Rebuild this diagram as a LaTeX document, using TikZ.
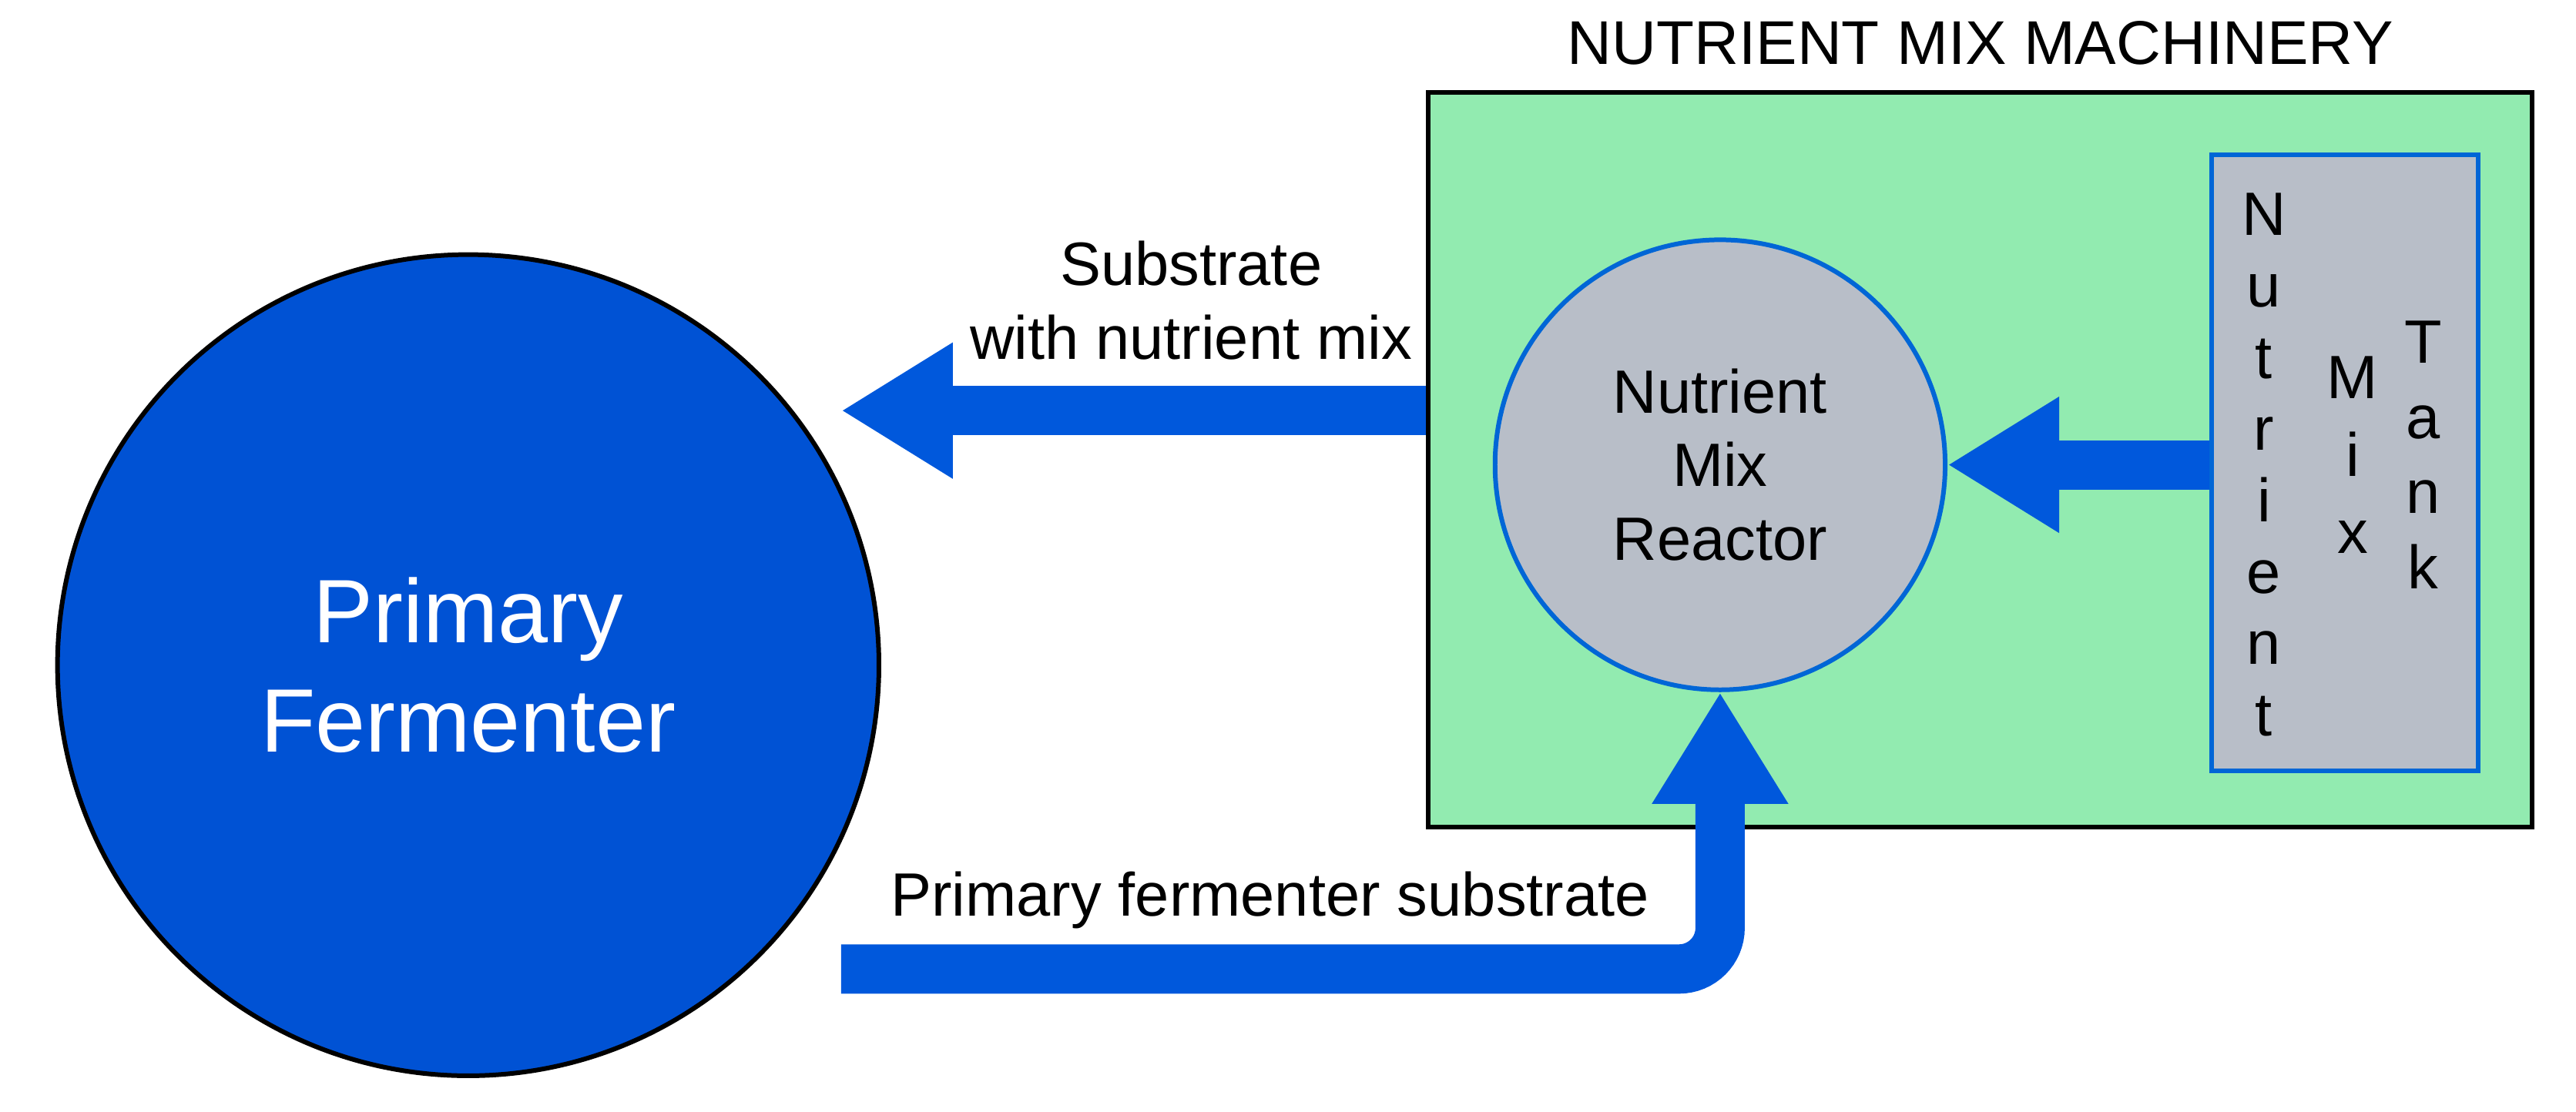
\documentclass[tikz,border=0pt]{standalone}
\usepackage{fontspec}
\setmainfont{Liberation Sans}
\usetikzlibrary{arrows.meta, positioning}
\definecolor{fermblue}{RGB}{0,82,212}
\definecolor{flowblue}{RGB}{0,88,220}
\definecolor{mixgreen}{RGB}{146,235,176}
\definecolor{tankgray}{RGB}{184,190,200}
\definecolor{edgeblue}{RGB}{0,102,214}

\begin{document}
\begin{tikzpicture}[
      flow/.style={-{Triangle[length=6.8mm,width=7.8mm]}, line width=3mm, draw=flowblue},
      lbl/.style={font=\fontsize{10.6}{12.8}\selectfont, align=center},
      x=1cm, y=1cm
    ]
    \useasboundingbox (0,0) rectangle (15.68,-6.77);

    % Nodes
    \node[circle, draw, thick, fill=fermblue, minimum size=5cm, text=white,
          font=\fontsize{15.6}{19}\selectfont, align=center] (ferm) at (2.85,-4.05) {Primary\\Fermenter};
    \node[draw, thick, fill=mixgreen, minimum width=6.72cm, minimum height=4.47cm,
          anchor=north west] (machine) at (8.68,-0.55) {};
    \node[font=\fontsize{10.7}{12}\selectfont, above=0.03cm of machine] (title) {NUTRIENT MIX MACHINERY};
    \node[circle, draw=edgeblue, thick, fill=tankgray, minimum size=2.74cm, lbl] (reactor)
          at (10.47,-2.83) {Nutrient\\Mix\\Reactor};
    \node[draw=edgeblue, thick, fill=tankgray, minimum width=1.62cm, minimum height=3.75cm,
          anchor=north west] (tank) at (13.45,-0.93) {};
    \node[lbl, font=\fontsize{10.6}{12.4}\selectfont] (w1) at (13.78,-2.83) {N\\u\\t\\r\\i\\e\\n\\t};
    \node[lbl, font=\fontsize{10.6}{13.4}\selectfont] (w2) at (14.32,-2.77) {M\\i\\x};
    \node[lbl, font=\fontsize{10.6}{13}\selectfont] (w3) at (14.75,-2.77) {T\\a\\n\\k};

    % Arrows
    \coordinate (tip1) at (5.12,-2.50);
    \draw[flow] (machine.west |- tip1) -- (tip1);
    \node[lbl] (sublbl) at (7.25,-1.83) {Substrate\\with nutrient mix};

    \draw[flow] (tank.west |- reactor) -- (reactor.east);

    \coordinate (start3) at (5.12,-5.90);
    \draw[flow, rounded corners=2.5mm] (start3) -- (reactor.south |- start3) -- (reactor.south);
    \node[lbl] (fermlbl) at (7.73,-5.48) {Primary fermenter substrate};
\end{tikzpicture}
\end{document}
